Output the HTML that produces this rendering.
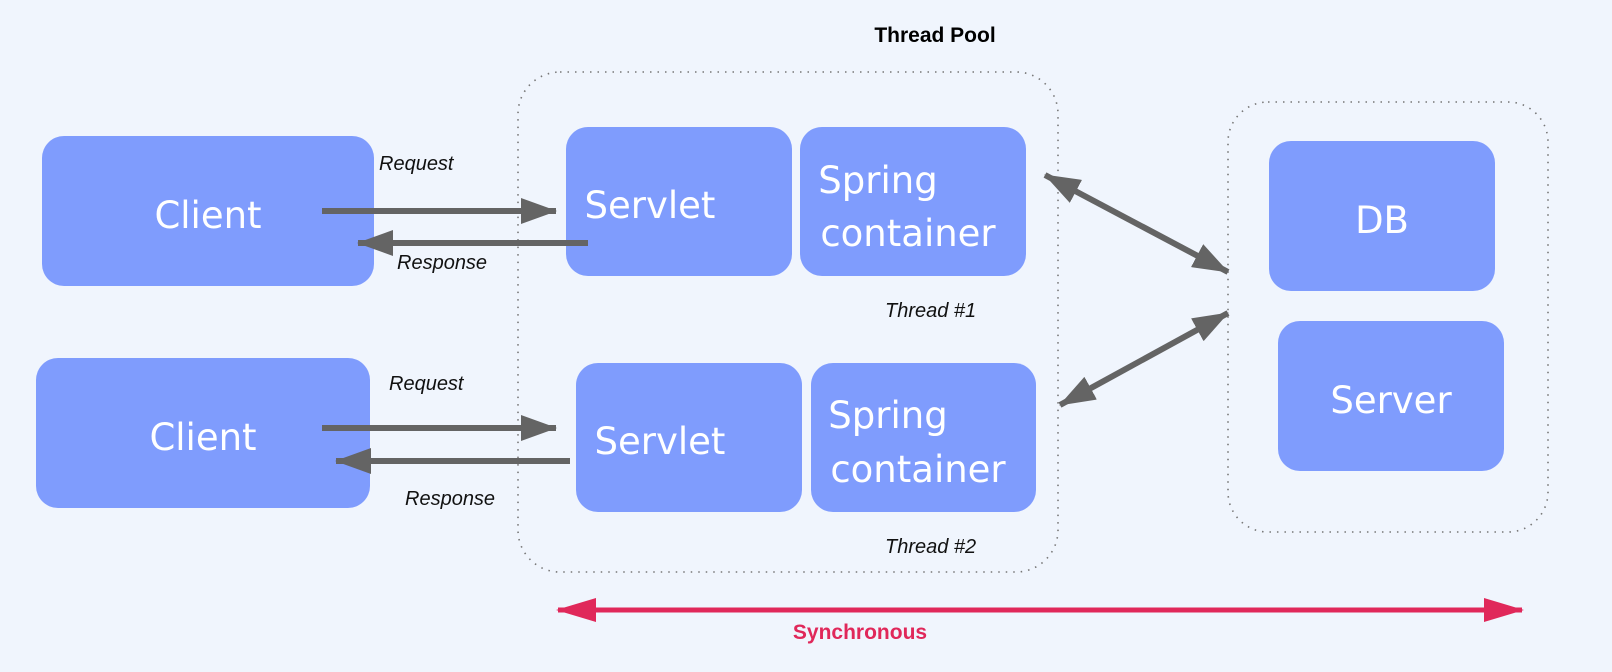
<!DOCTYPE html>
<html><head><meta charset="utf-8"><style>
html,body{margin:0;padding:0;background:#f0f5fd;}
svg{display:block;}
.b{fill:#7f9cfd;}
.t{font-family:"DejaVu Sans","Liberation Sans",sans-serif;font-size:37px;fill:#fff;text-anchor:middle;}
.i{font-family:"Liberation Sans",sans-serif;font-style:italic;font-size:20px;fill:#111;}
</style></head><body>
<svg width="1612" height="672" viewBox="0 0 1612 672">
<defs>
<marker id="ag" markerWidth="10" markerHeight="10" refX="8" refY="5" orient="auto-start-reverse" markerUnits="userSpaceOnUse" viewBox="0 0 10 10" style="overflow:visible">
<path d="M-26,-8 L8,5 L-26,18 Z" fill="#646464" transform="translate(0,0)"/>
</marker>
<marker id="ar" viewBox="0 0 40 24" refX="38" refY="12" markerWidth="40" markerHeight="24" orient="auto-start-reverse" markerUnits="userSpaceOnUse">
<path d="M0,0 L40,12 L0,24 Z" fill="#e0285a"/>
</marker>
<marker id="a2" viewBox="0 0 36 26" refX="35" refY="13" markerWidth="36" markerHeight="26" orient="auto-start-reverse" markerUnits="userSpaceOnUse">
<path d="M0,0 L36,13 L0,26 Z" fill="#646464"/>
</marker>
</defs>
<rect x="0" y="0" width="1612" height="672" fill="#f0f5fd"/>
<text x="935" y="42" font-family="Liberation Sans,sans-serif" font-weight="bold" font-size="21" text-anchor="middle" fill="#000">Thread Pool</text>
<rect x="518" y="72" width="540" height="500" rx="42" fill="none" stroke="#777" stroke-width="1.6" stroke-dasharray="1.5 6"/>
<rect x="1228" y="102" width="320" height="430" rx="40" fill="none" stroke="#777" stroke-width="1.6" stroke-dasharray="1.5 6"/>
<rect class="b" x="42" y="136" width="332" height="150" rx="22"/>
<text class="t" x="208" y="228">Client</text>
<rect class="b" x="36" y="358" width="334" height="150" rx="22"/>
<text class="t" x="203" y="450">Client</text>
<rect class="b" x="566" y="127" width="226" height="149" rx="22"/>
<text class="t" x="650" y="218">Servlet</text>
<rect class="b" x="800" y="127" width="226" height="149" rx="22"/>
<text class="t" x="878" y="193">Spring</text>
<text class="t" x="908" y="246">container</text>
<rect class="b" x="576" y="363" width="226" height="149" rx="22"/>
<text class="t" x="660" y="454">Servlet</text>
<rect class="b" x="811" y="363" width="225" height="149" rx="22"/>
<text class="t" x="888" y="428">Spring</text>
<text class="t" x="918" y="482">container</text>
<rect class="b" x="1269" y="141" width="226" height="150" rx="22"/>
<text class="t" x="1382" y="233">DB</text>
<rect class="b" x="1278" y="321" width="226" height="150" rx="22"/>
<text class="t" x="1391" y="413">Server</text>
<g stroke="#646464" stroke-width="6" fill="none">
<line x1="322" y1="211" x2="556" y2="211" marker-end="url(#a2)"/>
<line x1="588" y1="243" x2="358" y2="243" marker-end="url(#a2)"/>
<line x1="322" y1="428" x2="556" y2="428" marker-end="url(#a2)"/>
<line x1="570" y1="461" x2="336" y2="461" marker-end="url(#a2)"/>
<line x1="1045" y1="175" x2="1228" y2="272" marker-start="url(#a2)" marker-end="url(#a2)"/>
<line x1="1060" y1="405" x2="1228" y2="313" marker-start="url(#a2)" marker-end="url(#a2)"/>
</g>
<line x1="558" y1="610" x2="1522" y2="610" stroke="#e0285a" stroke-width="5" marker-start="url(#ar)" marker-end="url(#ar)"/>
<text x="860" y="639" font-family="Liberation Sans,sans-serif" font-weight="bold" font-size="21" text-anchor="middle" fill="#e0285a">Synchronous</text>
<text class="i" x="379" y="170">Request</text>
<text class="i" x="397" y="269">Response</text>
<text class="i" x="885" y="317">Thread #1</text>
<text class="i" x="389" y="390">Request</text>
<text class="i" x="405" y="505">Response</text>
<text class="i" x="885" y="553">Thread #2</text>
</svg>
</body></html>
